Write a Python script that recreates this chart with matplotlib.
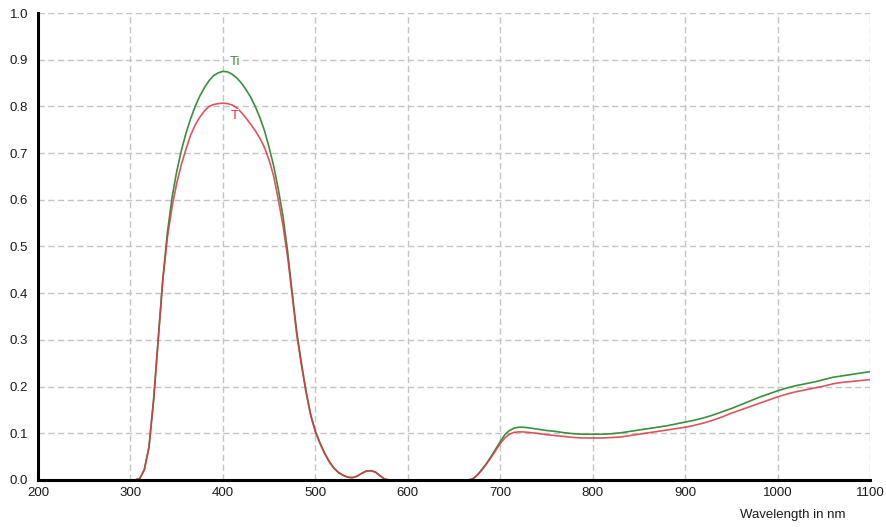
import matplotlib
matplotlib.use("Agg")
import matplotlib.pyplot as plt
from matplotlib.ticker import MultipleLocator, FormatStrFormatter

plt.rcParams['font.family'] = ['Liberation Sans', 'DejaVu Sans']

wavelength = [200, 250, 300, 305, 310, 315, 320, 325, 330, 335,
              340, 345, 350, 355, 360, 365, 370, 375, 380, 385,
              390, 395, 400, 405, 410, 415, 420, 425, 430, 435,
              440, 445, 450, 455, 460, 465, 470, 475, 480, 485,
              490, 495, 500, 505, 510, 515, 520, 525, 530, 535,
              540, 545, 550, 555, 560, 565, 570, 575, 580, 600,
              620, 640, 660, 665, 670, 675, 680, 685, 690, 695,
              700, 705, 710, 715, 720, 725, 730, 740, 750, 760,
              770, 780, 790, 800, 810, 820, 830, 840, 850, 860,
              870, 880, 890, 900, 910, 920, 930, 940, 950, 960,
              970, 980, 990, 1000, 1010, 1020, 1030, 1040, 1050, 1060,
              1070, 1080, 1090, 1100]

Ti = [0, 0, 0, 0, 0.003, 0.022, 0.07, 0.17, 0.30, 0.43,
      0.53, 0.605, 0.66, 0.705, 0.742, 0.773, 0.80, 0.822, 0.84, 0.855,
      0.866, 0.872, 0.875, 0.874, 0.869, 0.861, 0.85, 0.836, 0.82, 0.80,
      0.776, 0.748, 0.712, 0.672, 0.622, 0.565, 0.49, 0.40, 0.315, 0.25,
      0.19, 0.14, 0.105, 0.08, 0.058, 0.04, 0.026, 0.016, 0.01, 0.006,
      0.005, 0.008, 0.014, 0.019, 0.02, 0.017, 0.009, 0.002, 0, 0,
      0, 0, 0, 0, 0.002, 0.01, 0.022, 0.035, 0.05, 0.066,
      0.082, 0.097, 0.106, 0.111, 0.113, 0.113, 0.112, 0.109, 0.106, 0.104,
      0.101, 0.099, 0.098, 0.098, 0.098, 0.099, 0.101, 0.104, 0.107, 0.110,
      0.113, 0.116, 0.120, 0.124, 0.128, 0.133, 0.139, 0.146, 0.153, 0.161,
      0.169, 0.177, 0.184, 0.191, 0.197, 0.202, 0.206, 0.210, 0.215, 0.220,
      0.223, 0.226, 0.229, 0.232]

T = [0, 0, 0, 0, 0.003, 0.022, 0.07, 0.17, 0.30, 0.428,
     0.52, 0.585, 0.635, 0.675, 0.708, 0.738, 0.76, 0.777, 0.79, 0.80,
     0.804, 0.806, 0.807, 0.806, 0.803, 0.797, 0.787, 0.775, 0.762, 0.748,
     0.732, 0.712, 0.685, 0.65, 0.60, 0.545, 0.478, 0.395, 0.31, 0.245,
     0.187, 0.138, 0.103, 0.078, 0.057, 0.039, 0.025, 0.016, 0.01, 0.006,
     0.005, 0.008, 0.014, 0.019, 0.02, 0.017, 0.009, 0.002, 0, 0,
     0, 0, 0, 0, 0.002, 0.01, 0.021, 0.034, 0.048, 0.063,
     0.078, 0.09, 0.098, 0.102, 0.103, 0.103, 0.102, 0.100, 0.097, 0.095,
     0.093, 0.091, 0.090, 0.090, 0.090, 0.091, 0.092, 0.095, 0.098, 0.101,
     0.104, 0.107, 0.110, 0.113, 0.117, 0.122, 0.128, 0.135, 0.143, 0.150,
     0.157, 0.164, 0.171, 0.178, 0.184, 0.189, 0.193, 0.197, 0.201, 0.206,
     0.209, 0.211, 0.213, 0.215]

series_labels = ["Ti", "T"]
x_ticks = [200, 300, 400, 500, 600, 700, 800, 900, 1000, 1100]
x_title = "Wavelength in nm"

green = "#3a8f3c"
red = "#d63844"

fig = plt.figure(figsize=(8.86, 5.27), dpi=100)
ax = fig.add_axes([38 / 886, 1 - 480 / 527, (870 - 38) / 886, (480 - 13) / 527])

ax.plot(wavelength, Ti, color=green, lw=1.2, zorder=3)
ax.plot(wavelength, T, color=red, lw=1.2, alpha=0.85, zorder=3)

ax.text(413, 0.895, series_labels[0], color=green, fontsize=9.5, ha='center', va='center',
        zorder=4, bbox=dict(facecolor='white', edgecolor='none', pad=0.3))
ax.text(413, 0.78, series_labels[1], color=red, fontsize=9.5, ha='center', va='center',
        zorder=4, bbox=dict(facecolor='white', edgecolor='none', pad=0.3))

ax.set_xlim(200, 1100)
ax.set_ylim(0, 1.0)
ax.set_xticks(x_ticks)
ax.yaxis.set_major_locator(MultipleLocator(0.1))
ax.yaxis.set_major_formatter(FormatStrFormatter('%.1f'))

ax.grid(True, color='#c4c4c4', lw=1.0, linestyle=(0, (4.5, 2.5)), zorder=1)
ax.set_axisbelow(True)

for s in ['top', 'right']:
    ax.spines[s].set_visible(False)
for s in ['left', 'bottom']:
    ax.spines[s].set_linewidth(2.2)
    ax.spines[s].set_color('black')
    ax.spines[s].set_zorder(5)

ax.tick_params(axis='both', length=0, labelsize=9.5, labelcolor='#1a1a1a')
ax.tick_params(axis='y', pad=7)
ax.tick_params(axis='x', pad=5)

fig.text(845 / 886, 1 - 515 / 527, x_title, fontsize=9.5, color='#1a1a1a', ha='right', va='center')

fig.savefig("out.png", dpi=100, facecolor='white')
